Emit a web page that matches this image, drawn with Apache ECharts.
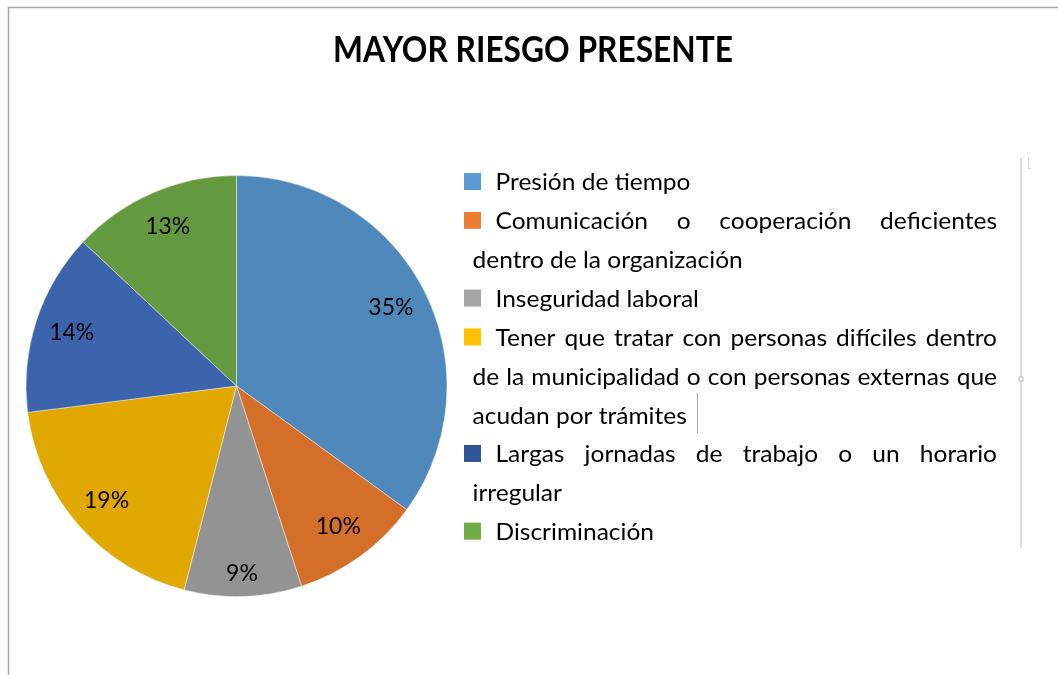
<!DOCTYPE html>
<html><head><meta charset="utf-8">
<script src="https://cdn.jsdelivr.net/npm/echarts@6/dist/echarts.min.js"></script>
<style>html,body{margin:0;padding:0;background:#fff}#c{width:1058px;height:675px}</style>
</head><body><div id="c"></div>
<script>
const titleText = 'MAYOR RIESGO PRESENTE';
const categories = [
  'Presión de tiempo',
  'Comunicación o cooperación deficientes dentro de la organización',
  'Inseguridad laboral',
  'Tener que tratar con personas difíciles dentro de la municipalidad o con personas externas que acudan por trámites',
  'Largas  jornadas de trabajo o un horario irregular',
  'Discriminación'
];
const values = [35, 10, 9, 19, 14, 13];

// styles
const sliceColors = ['#4F89BC', '#D46F2A', '#939393', '#E0A800', '#3C64AD', '#64993F'];
const legendColors = ['#5B9BD5', '#ED7D31', '#A5A5A5', '#FFC000', '#2F5597', '#70AD47'];
const wrapCounts = [[3], [4, 4], [2], [7, 8, 3], [7, 1], [1]];

const ctx = document.createElement('canvas').getContext('2d');
function textW(t, font) { ctx.font = font; return ctx.measureText(t).width; }

const legendFont = '24px Lato';
const sx = 195 / textW('Presión de tiempo', legendFont);
const titleFont = 'bold 36px Lato';
const st = 400 / textW(titleText, titleFont);

const graphics = [];
// frame
graphics.push({type: 'polyline', shape: {points: [[1058, 7.5], [8.5, 7.5], [8.5, 675]]}, style: {stroke: '#a6a6a6', lineWidth: 1.5, fill: null}, silent: true});
// text box edge
graphics.push({type: 'line', shape: {x1: 1021, y1: 158, x2: 1021, y2: 548}, style: {stroke: '#dcdcdc', lineWidth: 2}, silent: true});
graphics.push({type: 'polyline', shape: {points: [[1028.5, 158], [1028.5, 168.5], [1031, 168.5]]}, style: {stroke: '#d6d6d6', lineWidth: 1.2, fill: null}, silent: true});
graphics.push({type: 'rect', shape: {x: 1019, y: 377, width: 4, height: 4}, style: {stroke: '#b8b8b8', lineWidth: 1, fill: '#fff'}, silent: true});
// cursor
graphics.push({type: 'line', shape: {x1: 697.5, y1: 393, x2: 697.5, y2: 433}, style: {stroke: '#a8a8a8', lineWidth: 1}, silent: true});
// title
graphics.push({type: 'text', x: 533, y: 50, scaleX: st, style: {text: titleText, font: titleFont, fill: '#000', align: 'center', verticalAlign: 'middle'}});

// legend
const textX0 = 495.5, textX1 = 472.5, textRight = 997;
const baseY0 = 192, lineStep = 38.85, midOff = 9.3;
let lineIdx = 0;
categories.forEach((name, i) => {
  const words = name.split(/\s+/);
  const counts = wrapCounts[i];
  const by = baseY0 + lineIdx * lineStep;
  graphics.push({type: 'rect', shape: {x: 464, y: by - 19, width: 17, height: 17}, style: {fill: legendColors[i]}});
  let w = 0;
  counts.forEach((cnt, li) => {
    const lw = words.slice(w, w + cnt); w += cnt;
    const y = baseY0 + lineIdx * lineStep - midOff;
    const x0 = li === 0 ? textX0 : textX1;
    const last = li === counts.length - 1;
    if (last) {
      graphics.push({type: 'text', x: x0, y: y, scaleX: sx, style: {text: lw.join(' '), font: legendFont, fill: '#000', align: 'left', verticalAlign: 'middle'}});
    } else {
      const ws = lw.map(t => textW(t, legendFont) * sx);
      const total = ws.reduce((a, b) => a + b, 0);
      const gap = (textRight - x0 - total) / (lw.length - 1);
      let x = x0;
      lw.forEach((t, k) => {
        graphics.push({type: 'text', x: x, y: y, scaleX: sx, style: {text: t, font: legendFont, fill: '#000', align: 'left', verticalAlign: 'middle'}});
        x += ws[k] + gap;
      });
    }
    lineIdx++;
  });
});

const pieData = categories.map((c, i) => ({name: c, value: values[i], itemStyle: {color: sliceColors[i]}}));
const labelData = categories.map((c, i) => ({name: c, value: values[i]}));

const chart = echarts.init(document.getElementById('c'), null, {renderer: 'canvas'});
chart.setOption({
  animation: false,
  backgroundColor: '#fff',
  graphic: graphics,
  series: [
    {
      type: 'pie', center: [236.5, 386], radius: [0, 210.5], startAngle: 90, clockwise: true,
      data: pieData, label: {show: false}, labelLine: {show: false},
      itemStyle: {borderColor: 'rgba(255,255,255,0.55)', borderWidth: 0.8},
      emphasis: {disabled: true}, silent: true
    },
    {
      type: 'pie', center: [236.5, 386], radius: [130, 210.5], startAngle: 90, clockwise: true,
      data: labelData, silent: true, emphasis: {disabled: true},
      itemStyle: {color: 'rgba(0,0,0,0)', borderWidth: 0},
      label: {show: true, position: 'inside', formatter: '{c}%', fontFamily: 'Lato', fontSize: 23, color: '#000'},
      labelLine: {show: false},
      labelLayout: function (p) { return p.dataIndex === 2 ? {dy: 14} : {}; }
    }
  ]
});
</script>
</body></html>
